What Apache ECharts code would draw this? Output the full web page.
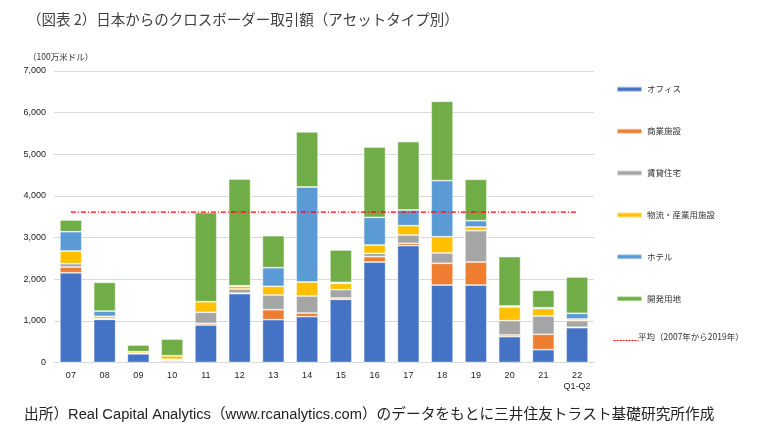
<!DOCTYPE html>
<html><head><meta charset="utf-8">
<script src="https://cdn.jsdelivr.net/npm/echarts@6/dist/echarts.min.js"></script>
<style>html,body{margin:0;padding:0;background:#fff}#c{width:776px;height:446px}</style>
</head><body><div id="c"></div>
<script>
const categories = ['07','08','09','10','11','12','13','14','15','16','17','18','19','20','21','22\nQ1-Q2'];
const office     = [2155,1037, 210,  30, 900,1653,1028,1100,1517,2413,2806,1861,1861, 621, 308, 837];
const retail     = [ 138,   8,   5,  25,  40,  12, 240,  88,  32, 128,  56, 521, 552,  40, 369,  10];
const residential= [  80,   8,   5,  22, 265, 100, 353, 409, 200,  80, 200, 248, 753, 344, 440, 158];
const logistics  = [ 304,  55,  40,  86, 256,  70, 208, 336, 152, 200, 224, 392,  88, 328, 176,  40];
const hotel      = [ 465, 127,   0,   0,   0,   8, 448,2282,  24, 665, 376,1345, 152,  24,  24, 136];
const land       = [ 280, 690, 160, 400,2137,2562, 769,1321, 777,1689,1641,1906, 993,1184, 416, 872];
const average    = [3610,3610,3610,3610,3610,3610,3610,3610,3610,3610,3610,3610,3610,3610,3610,3610];
const seriesNames = ['オフィス','商業施設','賃貸住宅','物流・産業用施設','ホテル','開発用地','平均（2007年から2019年）'];
const colors = ['#4472c4','#ed7d31','#a5a5a5','#ffc000','#5b9bd5','#70ad47','#ff0000'];
const yTicks = {min:0, max:7000, interval:1000};

const FONT = "'Liberation Sans','Noto Sans CJK JP',sans-serif";
const JFONT = "'Noto Sans CJK JP','Liberation Sans',sans-serif";
const chart = echarts.init(document.getElementById('c'), null, {renderer:'canvas'});
const barData = [office, retail, residential, logistics, hotel, land];
const series = barData.map((d,i)=>({
  name: seriesNames[i], type:'bar', stack:'total', data:d,
  barCategoryGap:'35%',
  itemStyle:{color:colors[i], borderColor:'rgba(255,255,255,0.55)', borderWidth:0.8},
  emphasis:{disabled:true}
}));
series.push({
  name: seriesNames[6], type:'line', data: average, symbol:'none',
  lineStyle:{color:'#ff0000', width:1.2, type:[5,2,1,2]},
  itemStyle:{color:'#ff0000'}, z:10
});
chart.setOption({
  animation:false,
  color: colors,
  title:[
    {text:'（図表 2）日本からのクロスボーダー取引額（アセットタイプ別）', left:22, top:7,
     textStyle:{fontFamily:JFONT, fontSize:14.5, fontWeight:'normal', color:'#404040'}},
    {text:'（100万米ドル）', left:23, top:48,
     textStyle:{fontFamily:JFONT, fontSize:8.5, fontWeight:'normal', color:'#333'}},
    {text:'出所）Real Capital Analytics（www.rcanalytics.com）のデータをもとに三井住友トラスト基礎研究所作成', left:19, top:403,
     textStyle:{fontFamily:FONT, fontSize:14.7, fontWeight:'normal', color:'#222'}}
  ],
  legend:{
    orient:'vertical', left:611, top:80, itemWidth:25, itemHeight:5, itemGap:33.4,
    data: seriesNames.slice(0,6),
    textStyle:{fontFamily:JFONT, fontSize:8.5, color:'#333'},
    selectedMode:false
  },
  graphic:[
    {type:'line', left:611, top:338, shape:{x1:0,y1:0,x2:25,y2:0},
     style:{stroke:'#ff0000', lineWidth:1, lineDash:[2,1]}},
    {type:'text', left:638, top:333,
     style:{text:seriesNames[6], fill:'#333', font:"8.5px 'Noto Sans CJK JP','Liberation Sans',sans-serif"}}
  ],
  grid:{left:54, right:182, top:71, bottom:83.5},
  xAxis:{
    type:'category', data:categories,
    axisLine:{lineStyle:{color:'#d9d9d9'}}, axisTick:{show:false},
    axisLabel:{interval:0, fontFamily:FONT, fontSize:9, color:'#222', margin:8, lineHeight:11}
  },
  yAxis:{
    type:'value', min:yTicks.min, max:yTicks.max, interval:yTicks.interval,
    axisLine:{show:false}, axisTick:{show:false},
    splitLine:{lineStyle:{color:'#d9d9d9'}},
    axisLabel:{fontFamily:FONT, fontSize:9, color:'#222', margin:8,
      formatter:v=>v.toLocaleString('en-US')}
  },
  series: series
});
</script></body></html>
